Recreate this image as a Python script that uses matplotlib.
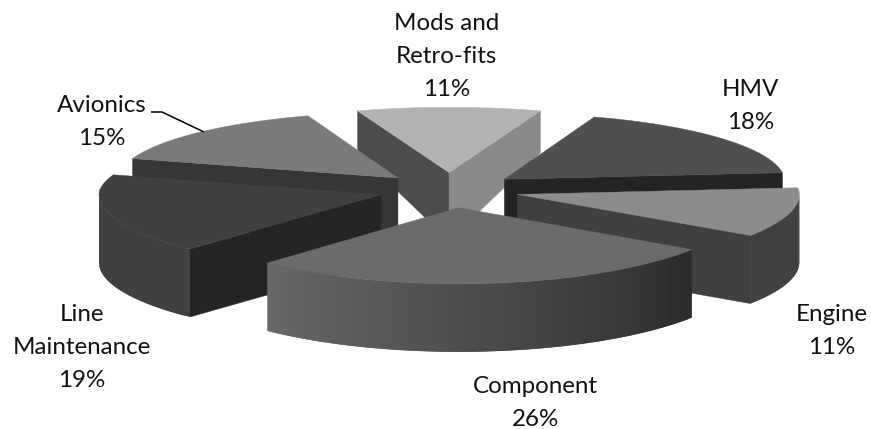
import numpy as np
import matplotlib
matplotlib.use("Agg")
import matplotlib.pyplot as plt
from matplotlib.patches import Polygon

# Maintenance spend by category, percent, clockwise from the top slice
categories = ["Mods and\nRetro-fits", "HMV", "Engine", "Component", "Line\nMaintenance", "Avionics"]
shares = [11, 18, 11, 26, 19, 15]

# Slice styling, same order as the categories
top_grey = ["#b2b2b2", "#4f4f4f", "#8c8c8c", "#6b6b6b", "#404040", "#7a7a7a"]
start_face = ["#4d4d4d", "#3a3a3a", "#3a3a3a", "#3a3a3a", "#252525", "#363636"]
end_face = ["#8a8a8a", "#242424", "#404040", "#3a3a3a", "#3a3a3a", "#3a3a3a"]
rim_from = [0x80, 0x30, 0x41, 0x2b, 0x40, 0x50]
rim_to = [0x80, 0x30, 0x41, 0x68, 0x40, 0x50]

# Label placement: centre x and first-line baseline y
label_x = [446.5, 750.5, 831.5, 535, 82, 101.5]
label_y = [30, 96, 321, 393, 321, 112]
line_step = 33

CX, CY = 449.0, 190.0
RX, RY, RY_CURVE = 282.0, 70.7, 3.6
WIDEN = 0.036
EXPLODE = 0.25
START_DEG = -19.8
TWIST_DEG, TWIST_AT, TWIST_SPAN = 4.9, 220.0, 40.0


def view_angle(theta):
    """Camera yaw makes the front-left sector look slightly wider on screen."""
    d = (np.degrees(theta) - TWIST_AT + 180) % 360 - 180
    return theta + np.radians(TWIST_DEG) * np.exp(-(d / TWIST_SPAN) ** 2)


def to_screen(u, v):
    """Project pie-plane coordinates; the far half narrows with distance."""
    return CX + RX * u * (1 + WIDEN * np.minimum(v, 0)), CY + RY * v + RY_CURVE * v * v


def depth(y):
    """Extrusion height: shallow at the far edge, constant over the near part."""
    return min(68.0, 42 + 0.43 * (y - 111))


def outline(theta, cu=0.0, cv=0.0):
    t = view_angle(theta)
    return to_screen(cu + np.sin(t), cv - np.cos(t))


fig = plt.figure(figsize=(8.71, 4.29), dpi=100)
ax = fig.add_axes([0, 0, 1, 1])
ax.set_xlim(0, 871)
ax.set_ylim(429, 0)
ax.axis("off")

fractions = np.array(shares, dtype=float) / sum(shares)
edges = np.radians(START_DEG + 360 * np.concatenate([[0], np.cumsum(fractions)]))

slices = []
for i in range(len(shares)):
    a, b = edges[i], edges[i + 1]
    mid = view_angle(0.5 * (a + b))
    slices.append((EXPLODE * -np.cos(mid), i, a, b, mid))


def extrude_quad(x0, y0, x1, y1):
    return [(x0, y0), (x1, y1), (x1, y1 + depth(y1)), (x0, y0 + depth(y0))]


# Back slices first so the nearer ones cover them
for _, i, a, b, mid in sorted(slices):
    cu, cv = EXPLODE * np.sin(mid), EXPLODE * -np.cos(mid)
    tx, ty = to_screen(cu, cv)

    th = np.linspace(a, b, max(int(np.degrees(b - a)), 2))
    xs, ys = outline(th, cu, cv)
    # Rim strips overlap the next one so no seams show through the shading
    for k in range(len(th) - 1):
        tm = 0.5 * (th[k] + th[k + 1])
        if -np.cos(tm) <= 0:
            continue
        frac = (tm - a) / (b - a)
        g = (rim_from[i] + (rim_to[i] - rim_from[i]) * frac) / 255
        col = (g, g, g)
        n = min(k + 2, len(th) - 1)
        strip = list(zip(xs[k:n + 1], ys[k:n + 1]))
        strip += [(px, py + depth(py)) for px, py in reversed(strip)]
        ax.add_patch(Polygon(strip, fc=col, ec="none", lw=0))

    if np.sin(a) < 0:
        x, y = outline(a, cu, cv)
        ax.add_patch(Polygon(extrude_quad(tx, ty, x, y), fc=start_face[i], ec=start_face[i], lw=0.3))
    if np.sin(b) > 0:
        x, y = outline(b, cu, cv)
        ax.add_patch(Polygon(extrude_quad(tx, ty, x, y), fc=end_face[i], ec=end_face[i], lw=0.3))

    top = [(tx, ty)] + list(zip(xs, ys))
    ax.add_patch(Polygon(top, fc=top_grey[i], ec=top_grey[i], lw=0.3))

# Leader line for the Avionics label
ax.plot([151, 162, 204], [112, 112, 132], color="black", lw=1.1, solid_capstyle="butt")

for name, share, lx, ly in zip(categories, shares, label_x, label_y):
    rows = name.split("\n") + [f"{share}%"]
    for r, row in enumerate(rows):
        ax.text(lx, ly + r * line_step, row, ha="center", va="baseline",
                family="Lato", fontsize=17.4, color="#111111")

fig.savefig("out.png", dpi=100)
